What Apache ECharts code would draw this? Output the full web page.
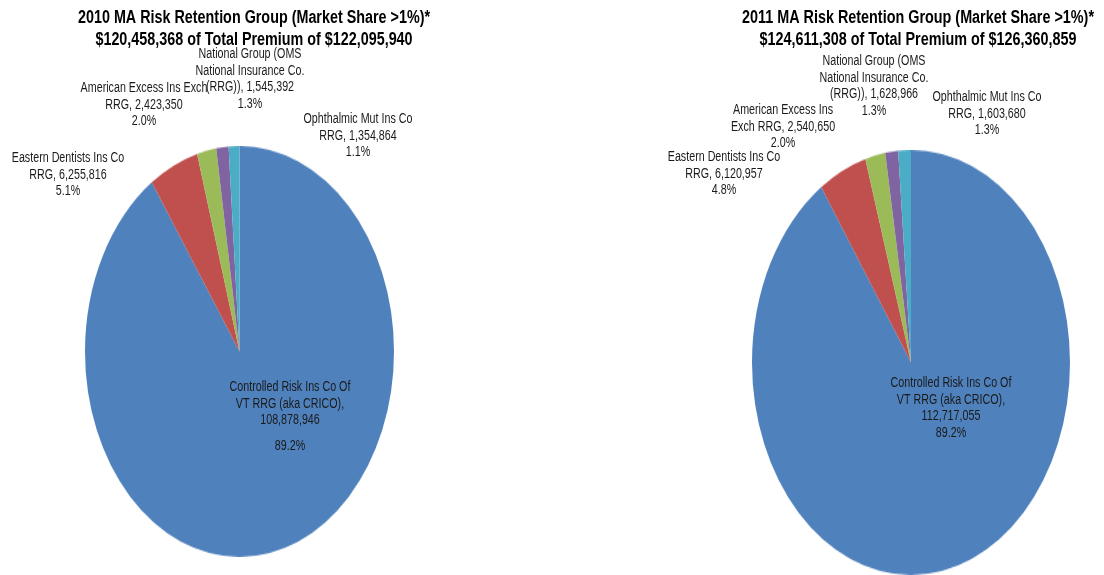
<!DOCTYPE html>
<html>
<head>
<meta charset="utf-8">
<script src="https://cdn.jsdelivr.net/npm/echarts@6/dist/echarts.min.js"></script>
<style>
  body { margin: 0; background: #fff; }
  #wrap { position: relative; width: 1104px; height: 575px; overflow: hidden; }
  .pie { position: absolute; transform-origin: 0 0; }
  /* the source pies are ellipses, so stretch a round pie vertically */
  #pie2010 { left: 85px; top: 146px; width: 309px; height: 309px; transform: scaleY(1.330); }
  #pie2011 { left: 752px; top: 150px; width: 318px; height: 318px; transform: scaleY(1.336); }
  #labels { position: absolute; left: 0; top: 0; width: 1104px; height: 575px; }
</style>
</head>
<body>
<div id="wrap">
  <div id="pie2010" class="pie"></div>
  <div id="pie2011" class="pie"></div>
  <div id="labels"></div>
</div>
<script>
// data
const names2010 = ['Controlled Risk Ins Co Of\nVT RRG (aka CRICO)', 'Eastern Dentists Ins Co\nRRG', 'American Excess Ins Exch\nRRG', 'National Group (OMS\nNational Insurance Co.\n(RRG))', 'Ophthalmic Mut Ins Co\nRRG'];
const names2011 = ['Controlled Risk Ins Co Of\nVT RRG (aka CRICO)', 'Eastern Dentists Ins Co\nRRG', 'American Excess Ins\nExch RRG', 'National Group (OMS\nNational Insurance Co.\n(RRG))', 'Ophthalmic Mut Ins Co\nRRG'];
const values2010 = [108878946, 6255816, 2423350, 1545392, 1354864];
const values2011 = [112717055, 6120957, 2540650, 1628966, 1603680];
const shown2010 = 120458368, total2010 = 122095940;
const shown2011 = 124611308, total2011 = 126360859;

const colors = ['#4F81BD', '#C0504D', '#9BBB59', '#8064A2', '#4BACC6'];
const font = "'Liberation Sans', Arial, sans-serif";
const narrow = 0.765; // fake Arial Narrow

function fmt(n) { return n.toLocaleString('en-US'); }

function pieOption(names, values) {
  return {
    animation: false,
    color: colors,
    series: [{
      type: 'pie',
      radius: '100%',
      center: ['50%', '50%'],
      startAngle: 90,
      clockwise: true,
      silent: true,
      label: { show: false },
      labelLine: { show: false },
      itemStyle: { borderWidth: 0 },
      data: names.map(function (n, i) { return { name: n, value: values[i] }; })
    }]
  };
}

let chart2010 = echarts.init(document.getElementById('pie2010'));
let chart2011 = echarts.init(document.getElementById('pie2011'));
chart2010.setOption(pieOption(names2010, values2010));
chart2011.setOption(pieOption(names2011, values2011));

// label placement (first line centre), same order as the data
const lh = 16.7;
const pos2010 = [{x: 290, y: 387, pctY: 446}, {x: 68, y: 158}, {x: 144, y: 88}, {x: 250, y: 54}, {x: 358, y: 119}];
const pos2011 = [{x: 951, y: 383}, {x: 724, y: 157}, {x: 783, y: 110}, {x: 874, y: 61}, {x: 987, y: 97}];

function labelEls(names, values, total, pos) {
  let els = [];
  names.forEach(function (n, i) {
    let body = n + (i === 0 ? ',\n' : ', ') + fmt(values[i]);
    let nLines = body.split('\n').length;
    let pct = (values[i] / total * 100).toFixed(1) + '%';
    let p = pos[i];
    els.push({
      type: 'text', x: p.x, y: p.y - lh / 2, scaleX: narrow,
      style: { text: body, textAlign: 'center', textVerticalAlign: 'top', font: '14px ' + font, lineHeight: lh, fill: '#1a1a1a' }
    });
    els.push({
      type: 'text', x: p.x, y: (p.pctY || p.y + nLines * lh) - lh / 2, scaleX: narrow,
      style: { text: pct, textAlign: 'center', textVerticalAlign: 'top', font: '14px ' + font, lineHeight: lh, fill: '#1a1a1a' }
    });
  });
  return els;
}

// squeeze the bold title to the width it has in the source
const ctx = document.createElement('canvas').getContext('2d');
const titleFont = 'bold 18px ' + font;
function titleEl(x, line1, line2) {
  ctx.font = titleFont;
  let s = 352 / ctx.measureText(line1).width;
  return {
    type: 'text', x: x, y: 7, scaleX: s,
    style: { text: line1 + '\n' + line2, textAlign: 'center', textVerticalAlign: 'top', font: titleFont, lineHeight: 22, fill: '#000' }
  };
}

let labelChart = echarts.init(document.getElementById('labels'));
labelChart.setOption({
  animation: false,
  graphic: [
    titleEl(254, '2010 MA Risk Retention Group (Market Share >1%)*', '$' + fmt(shown2010) + ' of Total Premium of $' + fmt(total2010)),
    titleEl(918, '2011 MA Risk Retention Group (Market Share >1%)*', '$' + fmt(shown2011) + ' of Total Premium of $' + fmt(total2011))
  ].concat(labelEls(names2010, values2010, total2010, pos2010))
   .concat(labelEls(names2011, values2011, total2011, pos2011))
});
</script>
</body>
</html>
